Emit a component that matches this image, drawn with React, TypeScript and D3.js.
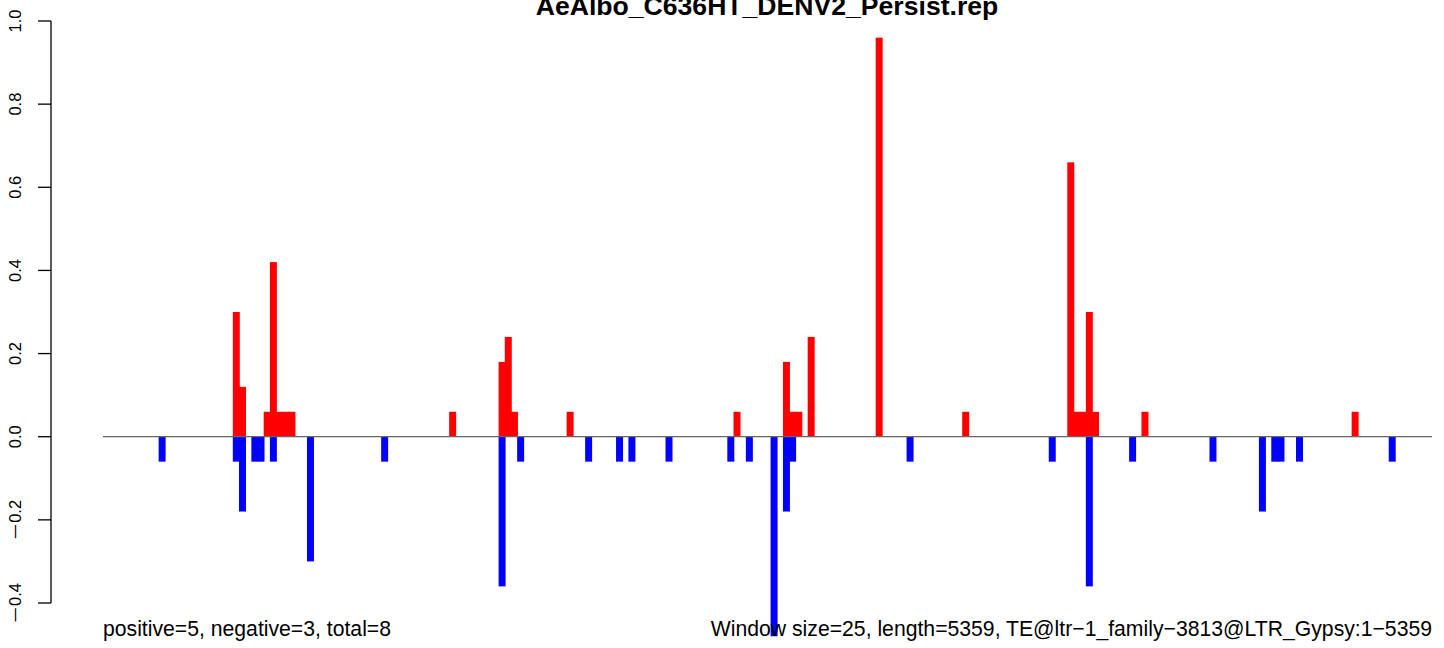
import React from "react";
import * as d3 from "d3";

const title = "AeAlbo_C636HT_DENV2_Persist.rep";
const windowSize = 25;
const seqLength = 5359;
const nWindows = 215;

// positive-strand windows (window index) and values
const posIdx = [21, 22, 26, 27, 28, 29, 30, 56, 64, 65, 66, 75, 102, 110, 111, 112, 114, 125, 139, 156, 157, 158, 159, 160, 168, 202];
const posVal = [0.30, 0.12, 0.06, 0.42, 0.06, 0.06, 0.06, 0.06, 0.18, 0.24, 0.06, 0.06, 0.06, 0.18, 0.06, 0.06, 0.24, 0.96, 0.06, 0.66, 0.06, 0.06, 0.30, 0.06, 0.06, 0.06];

// negative-strand windows (window index) and values
const negIdx = [9, 21, 22, 24, 25, 27, 33, 45, 64, 67, 78, 83, 85, 91, 101, 104, 108, 110, 111, 130, 153, 159, 166, 179, 187, 189, 190, 193, 208];
const negVal = [-0.06, -0.06, -0.18, -0.06, -0.06, -0.06, -0.30, -0.06, -0.36, -0.06, -0.06, -0.06, -0.06, -0.06, -0.06, -0.06, -0.48, -0.18, -0.06, -0.06, -0.06, -0.36, -0.06, -0.06, -0.18, -0.06, -0.06, -0.06, -0.06];

const yTicks = [-0.4, -0.2, 0.0, 0.2, 0.4, 0.6, 0.8, 1.0];

const leftText = "positive=5, negative=3, total=8";
const rightText = `Window size=${windowSize}, length=${seqLength}, TE@ltr\u22121_family\u22123813@LTR_Gypsy:1\u2212${seqLength}`;

const FONT = "'Liberation Sans', Arial, Helvetica, sans-serif";

export default function App() {
  const W = 1444;
  const H = 648;
  const x = d3.scaleLinear().domain([0, nWindows]).range([103, 1432]);
  const y = d3.scaleLinear().domain([-0.4, 1.0]).range([603, 21]);
  const axisX = 51;
  const bw = x(1) - x(0);

  return (
    <svg
      width={W}
      height={H}
      style={{ position: "absolute", left: 0, top: 0, background: "#fff" }}
      fontFamily={FONT}
    >
      <rect x={0} y={0} width={W} height={H} fill="#fff" />
      <text x={767} y={15} textAnchor="middle" fontWeight="bold" fontSize={26.6} fill="#000">
        {title}
      </text>

      {/* y axis */}
      <line x1={axisX} x2={axisX} y1={y(1.0)} y2={y(-0.4)} stroke="#000" strokeWidth={1.3} />
      {yTicks.map((t) => {
        const s = Math.abs(t).toFixed(1);
        return (
          <g key={t}>
            <line x1={axisX - 13} x2={axisX} y1={y(t)} y2={y(t)} stroke="#000" strokeWidth={1.3} />
            <text
              transform={`translate(21,${y(t)}) rotate(-90)`}
              textAnchor="middle"
              fontSize={16.5}
              fill="#000"
            >
              {t < 0 ? (
                <>
                  <tspan textLength={16} lengthAdjust="spacingAndGlyphs">{"\u2212"}</tspan>
                  <tspan dx={1}>{s}</tspan>
                </>
              ) : (
                s
              )}
            </text>
          </g>
        );
      })}

      {/* negative bars */}
      {negIdx.map((i, k) => (
        <rect
          key={"n" + k}
          x={x(i)}
          y={y(0)}
          width={bw + 0.8}
          height={y(negVal[k]) - y(0)}
          fill="#0000FF"
        />
      ))}
      {/* positive bars */}
      {posIdx.map((i, k) => (
        <rect
          key={"p" + k}
          x={x(i)}
          y={y(posVal[k])}
          width={bw + 0.8}
          height={y(0) - y(posVal[k])}
          fill="#FF0000"
        />
      ))}

      {/* zero line */}
      <line x1={x(0)} x2={x(nWindows)} y1={y(0)} y2={y(0)} stroke="#666" strokeWidth={1.3} />

      <text x={x(0)} y={636} fontSize={21.2} fill="#000">
        {leftText}
      </text>
      <text x={x(nWindows)} y={636} fontSize={21.2} textAnchor="end" fill="#000">
        {rightText}
      </text>
    </svg>
  );
}
